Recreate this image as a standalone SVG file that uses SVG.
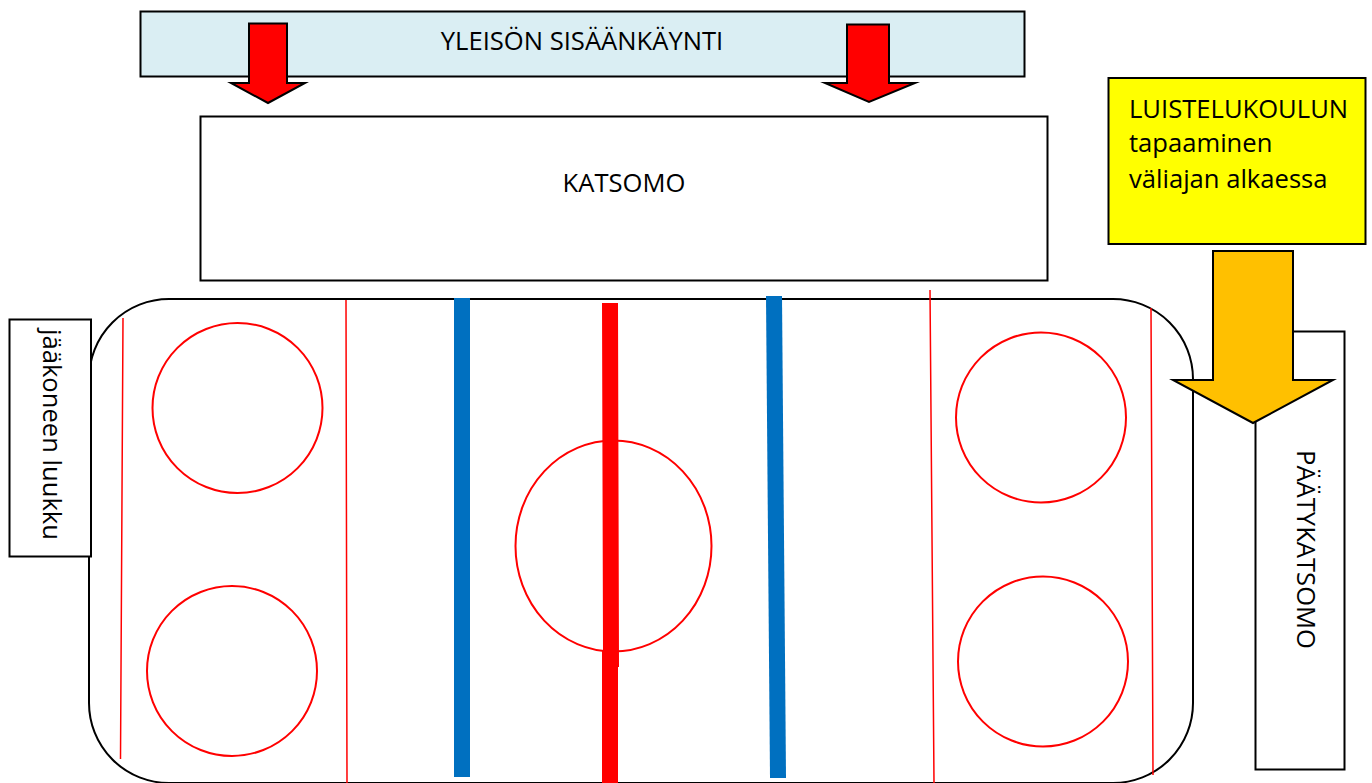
<svg xmlns="http://www.w3.org/2000/svg" width="1372" height="783" viewBox="0 0 1372 783">
<style>
.box{stroke:#000;stroke-width:2;fill:#fff}
.t{font-family:"Open Sans","Noto Sans",sans-serif;font-size:25.6px;fill:#000}
.m{text-anchor:middle}
.thin{stroke:#f00;stroke-width:1.5;fill:none}
.circ{stroke:#f00;stroke-width:2;fill:none}
.blue{fill:#0070c0}
.red{fill:#f00}
.arr{stroke:#000;stroke-width:2;stroke-linejoin:miter;stroke-miterlimit:10}
</style>
<rect width="1372" height="783" fill="#fff"/>
<g id="yleison"><rect x="140.500" y="11.500" width="884" height="65" class="box" style="fill:#daeef3"/><text x="582" y="50" class="t m">YLEISÖN SISÄÄNKÄYNTI</text></g>
<g id="katsomo"><rect x="200.500" y="116.500" width="847" height="164" class="box"/><text x="624" y="192" class="t m">KATSOMO</text></g>
<g id="rink">
<rect x="89" y="299" width="1104" height="484" rx="80" ry="80" class="box"/>
<path class="thin" d="M123 318L120.500 759M346 300L347 783M930 290L934 783M1151 308L1153 775"/>
<circle class="circ" cx="237.500" cy="408" r="85"/>
<circle class="circ" cx="232" cy="671" r="85"/>
<circle class="circ" cx="1041" cy="417.500" r="85"/>
<circle class="circ" cx="1043" cy="661.500" r="85"/>
<ellipse class="circ" cx="613.500" cy="546" rx="98" ry="105.500"/>
<polygon class="blue" points="454,298 470,298 470,777 454,777"/>
<polygon class="blue" points="766,296 782,296 786,778 770,778"/>
<polygon class="red" points="602,303 618,303 619,667 618,667 618,783 602,783 602,650 603,650"/>
</g>
<g id="luukku"><rect x="9.500" y="319.500" width="81.500" height="237" class="box"/><text transform="translate(43 329) rotate(90)" class="t">jääkoneen luukku</text></g>
<g id="paaty"><rect x="1255.500" y="331.500" width="89" height="438" class="box"/><text transform="translate(1297 450) rotate(90)" class="t">PÄÄTYKATSOMO</text></g>
<g id="luistelu"><rect x="1108.500" y="78" width="257" height="166" class="box" style="fill:#ff0"/>
<text x="1129" y="118" class="t">LUISTELUKOULUN</text><text x="1129" y="152" class="t">tapaaminen</text><text x="1129" y="188" class="t">väliajan alkaessa</text></g>
<g id="connectors">
<polygon class="arr" fill="#f00" points="249,23.500 287,23.500 287,83 305,83 268,103 231,83 249,83"/>
<polygon class="arr" fill="#f00" points="847,24.500 889,24.500 889,83 915,83 869,102 825,83 847,83"/>
<polygon class="arr" fill="#ffc000" points="1213,251 1293,251 1293,380 1333,380 1253,423 1173,380 1213,380"/>
</g>
</svg>
